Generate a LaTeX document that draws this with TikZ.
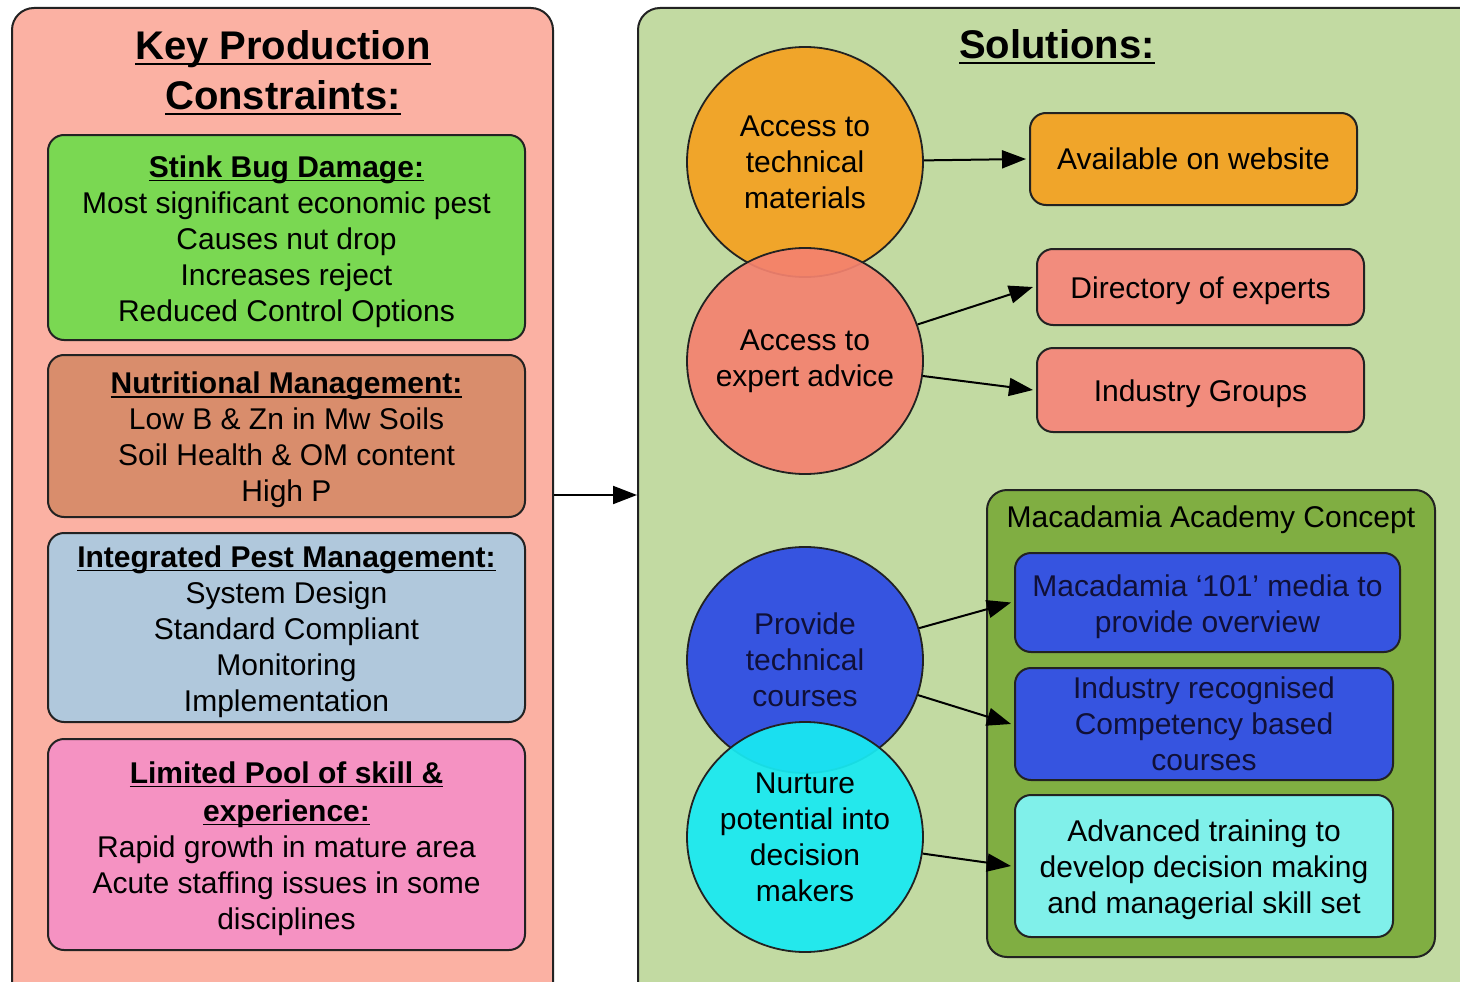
\documentclass[tikz,border=0pt]{standalone}
\usepackage{fontspec}
\setmainfont{Liberation Sans}
\usetikzlibrary{shapes.geometric,arrows.meta}

% underlined text with a rule of chosen depth and thickness
\newcommand{\ulbox}[3]{\setbox0=\hbox{#3}\rlap{\rule[-#1]{\wd0}{#2}}\box0}
\newcommand{\hd}[1]{\textbf{\ulbox{4pt}{1.8pt}{#1}}}
\newcommand{\ttl}[1]{\textbf{\ulbox{5pt}{2.4pt}{#1}}}
% taller first line, to lower a text block a little inside its box
\newcommand{\tp}{\rule{0pt}{30pt}}

\definecolor{leftbg}{HTML}{FBB1A3}
\definecolor{rightbg}{HTML}{C2DAA2}
\definecolor{stinkc}{HTML}{7AD852}
\definecolor{nutric}{HTML}{D98D6C}
\definecolor{ipmc}{HTML}{B0C8DC}
\definecolor{skillc}{HTML}{F592C2}
\definecolor{orangec}{HTML}{F0A52A}
\definecolor{salmonc}{HTML}{F28C7D}
\definecolor{salmonci}{HTML}{F4826F}
\definecolor{bluec}{HTML}{3654E0}
\definecolor{cyanc}{HTML}{18EAF2}
\definecolor{acadc}{HTML}{80AE42}
\definecolor{lcyanc}{HTML}{80F0EA}
\definecolor{edgec}{HTML}{222222}
\definecolor{navytext}{HTML}{101038}

\tikzset{
  panel/.style={draw=edgec, line width=2pt, rounded corners=22pt, inner sep=0pt},
  boxc/.style={draw=edgec, line width=2pt, rounded corners=16pt, align=center,
    inner sep=0pt, font=\fontsize{30}{36}\selectfont},
  circ/.style={ellipse, draw=edgec, line width=1.8pt, inner sep=0pt,
    minimum width=236pt},
  ctext/.style={align=center, font=\fontsize{30}{36}\selectfont},
  title/.style={align=center, font=\fontsize{40}{50}\selectfont},
  arr/.style={line width=2pt, draw=black, -{Triangle[length=24pt,width=18pt]}},
}

\begin{document}
\begin{tikzpicture}[x=1pt,y=-1pt]
\useasboundingbox (0,0) rectangle (1460,982);
\fill[white] (0,0) rectangle (1460,982);
\clip (0,0) rectangle (1460,982);

% the two panels
\node[panel, fill=leftbg, minimum width=541pt, minimum height=1000pt] (left) at (282.5,508) {};
\node[panel, fill=rightbg, minimum width=844pt, minimum height=1000pt] (right) at (1060,508) {};
\coordinate (midy) at (0,495);
\draw[arr] (left.east |- midy) -- (right.west |- midy);

% constraints
\node[title] (lt) at (283,73) {\ttl{Key Production}\\\ttl{Constraints:}};

\node[boxc, fill=stinkc, minimum width=477pt, minimum height=205pt] (stink) at (286.5,237.5)
  {\tp\hd{Stink Bug Damage:}\\Most significant economic pest\\Causes nut drop\\Increases reject\\Reduced Control Options};
\node[boxc, fill=nutric, minimum width=477pt, minimum height=162pt] (nutri) at (286.5,436)
  {\tp\hd{Nutritional Management:}\\Low B \& Zn in Mw Soils\\Soil Health \& OM content\\High P};
\node[boxc, fill=ipmc, minimum width=477pt, minimum height=189pt] (ipm) at (286.5,627.5)
  {\tp\hd{Integrated Pest Management:}\\System Design\\Standard Compliant\\Monitoring\\Implementation};
\node[boxc, fill=skillc, minimum width=477pt, minimum height=211pt] (skill) at (286.5,844.5)
  {\tp\hd{Limited Pool of skill \&}\\[2pt]\hd{experience:}\\Rapid growth in mature area\\Acute staffing issues in some\\disciplines};

% solutions
\node[title] (rt) at (1057,47) {\ttl{Solutions:}};

\node[circ, fill=orangec, minimum height=230pt,
  label={[ctext]center:Access to\\technical\\materials}] (tech) at (805,162) {};
\node[circ, fill=salmonci, fill opacity=0.92, minimum height=226pt,
  label={[ctext]center:Access to\\expert advice}] (expert) at (805,361) {};
\node[circ, fill=bluec, minimum height=226pt,
  label={[ctext, text=navytext]center:Provide\\technical\\courses}] (courses) at (805,660) {};
\node[circ, fill=cyanc, fill opacity=0.93, minimum height=230pt,
  label={[ctext]center:Nurture\\potential into\\decision\\makers}] (nurture) at (805,837) {};

\node[boxc, fill=orangec, minimum width=327pt, minimum height=92pt] (web) at (1193.5,159) {Available on website};
\node[boxc, fill=salmonc, minimum width=327pt, minimum height=76pt] (dir) at (1200.5,287) {\tp Directory of experts};
\node[boxc, fill=salmonc, minimum width=327pt, minimum height=84pt] (grp) at (1200.5,390) {\tp Industry Groups};

\node[boxc, fill=acadc, minimum width=448pt, minimum height=467pt, rounded corners=20pt] (acad) at (1211,723.5) {};
\node[font=\fontsize{30}{36}\selectfont] (acadt) at (1211,520) {Macadamia Academy Concept};
\node[boxc, fill=bluec, text=navytext, minimum width=385pt, minimum height=99pt] (media) at (1207.5,602.5)
  {\tp Macadamia ‘101’ media to\\provide overview};
\node[boxc, fill=bluec, text=navytext, minimum width=378pt, minimum height=112pt] (comp) at (1204,724)
  {Industry recognised\\Competency based\\courses};
\node[boxc, fill=lcyanc, minimum width=378pt, minimum height=142pt] (adv) at (1204,866)
  {\tp Advanced training to\\develop decision making\\and managerial skill set};

% connectors
\draw[arr] (tech) -- ([xshift=-3pt]web.west);
\draw[arr] (expert) -- ([xshift=-3pt]dir.west);
\draw[arr] (expert) -- ([xshift=-3pt]grp.west);
\draw[arr] (courses) -- ([xshift=-3pt]media.west);
\draw[arr] (courses) -- ([xshift=-3pt]comp.west);
\draw[arr] (nurture) -- ([xshift=-3pt]adv.west);
\end{tikzpicture}
\end{document}
